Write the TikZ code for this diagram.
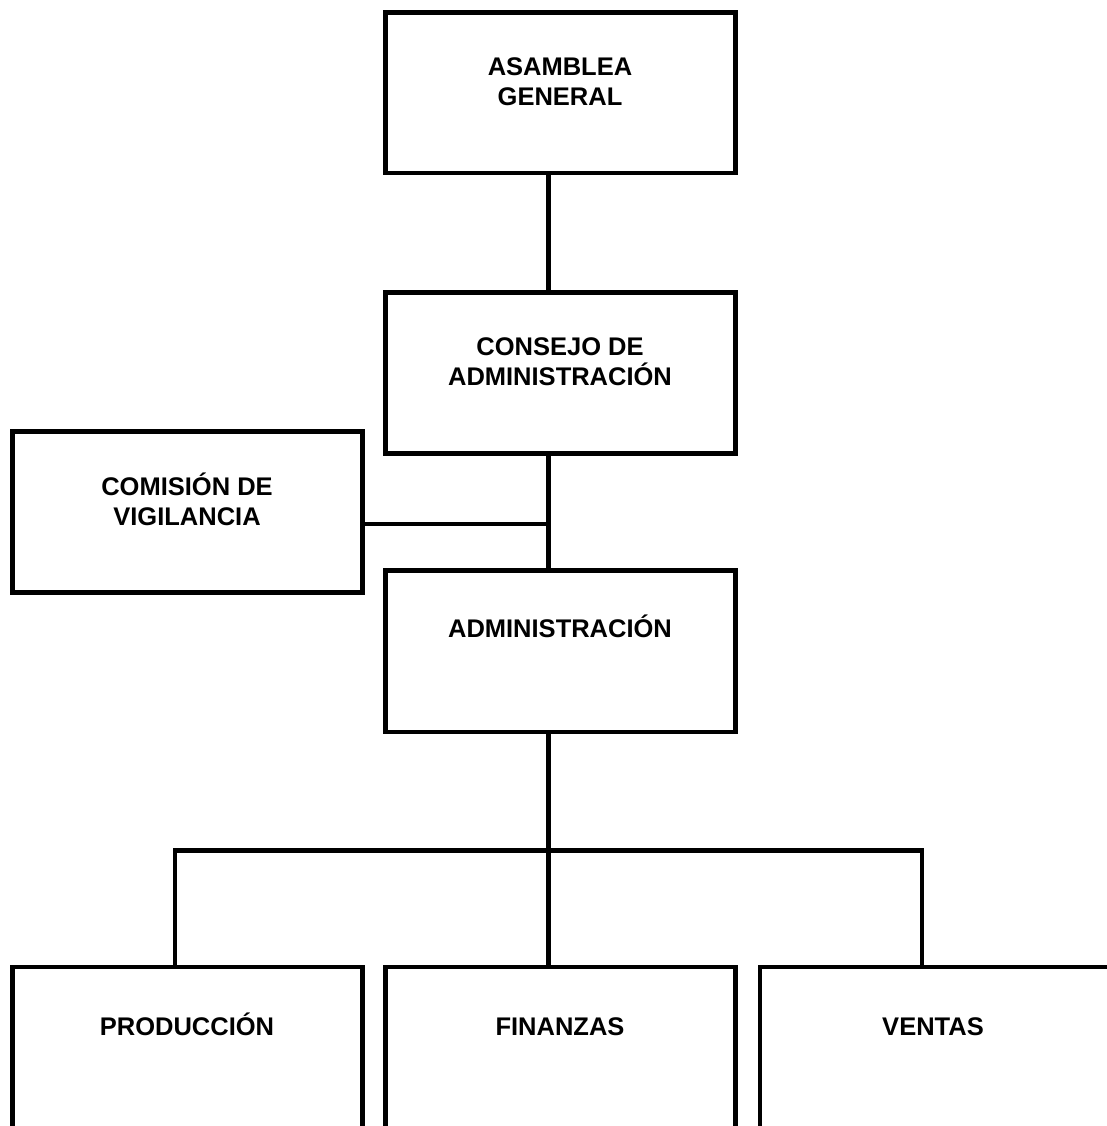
\documentclass[tikz,border=0pt]{standalone}
\usepackage{fontspec}
\setmainfont{Liberation Sans}
\begin{document}
\begin{tikzpicture}[x=1pt,y=-1pt,
  box/.style={draw=black,line width=4.8pt,rectangle,inner sep=0pt,
    minimum width=350pt,minimum height=161pt},
  tallbox/.style={box,minimum height=200pt},
  lbl/.style={anchor=north,inner sep=0pt,align=center,
    font=\fontsize{25.5pt}{30pt}\selectfont\bfseries,
    execute at begin node={\rule{0pt}{25pt}}},
  conn/.style={draw=black,line width=4.8pt},
  thinconn/.style={draw=black,line width=4.2pt}]
\useasboundingbox (0,0) rectangle (1107,1126);
\begin{scope}
\clip (0,0) rectangle (1107,1126);
% boxes
\node[box,minimum height=160.5pt] (asamblea) at (560.25,92.75) {};
\node[box] (consejo) at (560.25,373) {};
\node[box] (comision) at (187.25,512) {};
\node[box,minimum height=161.5pt] (admin) at (560.25,651.25) {};
\node[tallbox] (produccion) at (187.25,1067) {};
\node[tallbox] (finanzas) at (560.25,1067) {};
\node[tallbox] (ventas) at (935,1067) {};
% labels
\node[lbl] (asamblea-t) at (560,57) {ASAMBLEA\\GENERAL};
\node[lbl] (consejo-t) at (560,337.5) {CONSEJO DE\\ADMINISTRACIÓN};
\node[lbl] (comision-t) at (187,473) {COMISIÓN DE\\VIGILANCIA};
\node[lbl] (admin-t) at (560,612) {ADMINISTRACIÓN};
\node[lbl] (produccion-t) at (187,1010) {PRODUCCIÓN};
\node[lbl] (finanzas-t) at (560,1010) {FINANZAS};
\node[lbl] (ventas-t) at (933,1010) {VENTAS};
% helper coordinates
\coordinate (vx) at (548.5,0);
\coordinate (lx) at (175,0);
\coordinate (rx) at (922,0);
\coordinate (cy) at (0,524);
\coordinate (bus) at (0,850.5);
% connectors
\draw[conn] (asamblea.south -| vx) -- (consejo.north -| vx);
\draw[conn] (consejo.south -| vx) -- (admin.north -| vx);
\draw[thinconn] (comision.east |- cy) -- (vx |- cy);
\draw[conn] (admin.south -| vx) -- (finanzas.north -| vx);
\draw[conn,line join=miter] (produccion.north -| lx) -- (lx |- bus) -- (rx |- bus) -- (ventas.north -| rx);
\end{scope}
\end{tikzpicture}
\end{document}
